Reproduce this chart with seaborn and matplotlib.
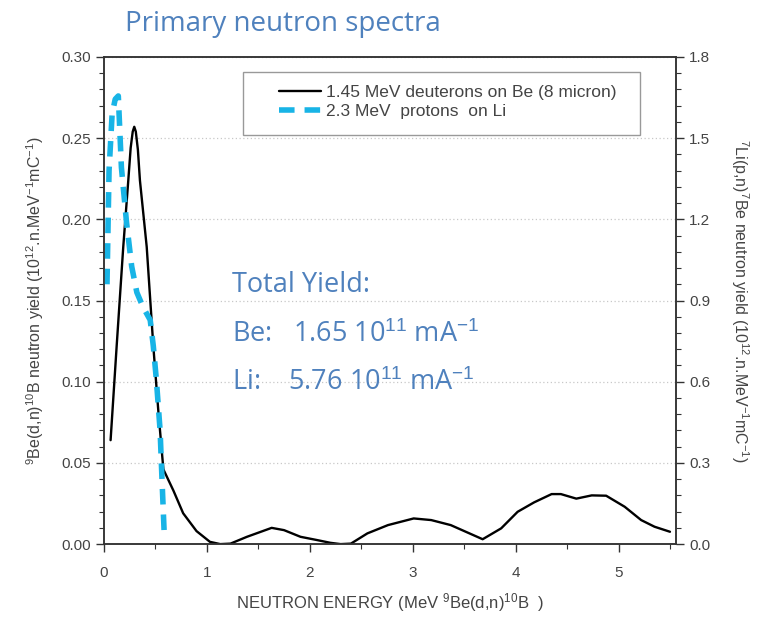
import matplotlib
matplotlib.use('Agg')
import matplotlib.pyplot as plt
import pandas as pd
import seaborn as sns
from matplotlib.ticker import MultipleLocator, FormatStrFormatter
from matplotlib.patches import Rectangle

# 1.45 MeV deuterons on Be, left axis
be_energy = [0.065, 0.124, 0.188, 0.237, 0.26, 0.28, 0.295, 0.31, 0.33, 0.35, 0.416, 0.48,
             0.53, 0.578, 0.675, 0.77, 0.9, 1.03, 1.13, 1.23, 1.39, 1.63, 1.75, 1.91, 2.07,
             2.2, 2.3, 2.4, 2.56, 2.76, 3.01, 3.18, 3.37, 3.68, 3.86, 4.02, 4.18, 4.35, 4.44,
             4.59, 4.74, 4.88, 5.06, 5.22, 5.35, 5.5]
be_yield = [0.064, 0.122, 0.183, 0.224, 0.244, 0.254, 0.257, 0.254, 0.243, 0.224, 0.183,
            0.122, 0.081, 0.046, 0.033, 0.019, 0.008, 0.0014, 0.0, 0.0003, 0.0045, 0.010,
            0.0086, 0.0045, 0.0025, 0.0008, 0.0, 0.0003, 0.0066, 0.0117, 0.0158, 0.0148,
            0.0117, 0.003, 0.0097, 0.0199, 0.0257, 0.0308, 0.0308, 0.028, 0.030, 0.0298,
            0.023, 0.0148, 0.0107, 0.0076]

# 2.3 MeV protons on Li, right axis
li_energy = [0.03, 0.05, 0.08, 0.11, 0.14, 0.17, 0.22, 0.27, 0.32, 0.38, 0.45, 0.48, 0.51,
             0.546, 0.565, 0.585]
li_yield = [0.96, 1.38, 1.59, 1.644, 1.656, 1.392, 1.188, 1.026, 0.93, 0.876, 0.828, 0.732,
            0.606, 0.42, 0.234, 0.048]

be_label = "1.45 MeV deuterons on Be (8 micron)"
li_label = "2.3 MeV  protons  on Li"

be_df = pd.DataFrame({"energy": be_energy, "yield": be_yield})
li_df = pd.DataFrame({"energy": li_energy, "yield": li_yield})

sns.set_style("ticks")
plt.rcParams['font.family'] = ['Liberation Sans', 'DejaVu Sans']
plt.rcParams['mathtext.fontset'] = 'custom'
plt.rcParams['mathtext.rm'] = 'Liberation Sans'
plt.rcParams['mathtext.it'] = 'Liberation Sans:italic'
plt.rcParams['mathtext.bf'] = 'Liberation Sans:bold'

txt = '#444444'
blue = '#4f81bd'
note_font = ['Open Sans', 'DejaVu Sans']

fig = plt.figure(figsize=(7.64, 6.19), dpi=100)
ax = fig.add_axes([0.136, 0.121, 0.749, 0.787])
ax2 = ax.twinx()

sns.lineplot(data=be_df, x="energy", y="yield", ax=ax, color='black', lw=1.7,
             sort=False, estimator=None, label=be_label, legend=False)
sns.lineplot(data=li_df, x="energy", y="yield", ax=ax2, color='#18b4e6', lw=4,
             sort=False, estimator=None, label=li_label, legend=False)
ax2.lines[0].set_dashes([2.8, 1.8])

ax.set_xlim(0, 5.56)
ax.set_ylim(0, 0.30)
ax2.set_ylim(0, 1.8)
ax.xaxis.set_major_locator(MultipleLocator(1))
ax.xaxis.set_minor_locator(MultipleLocator(0.5))
ax.yaxis.set_major_locator(MultipleLocator(0.05))
ax.yaxis.set_minor_locator(MultipleLocator(0.01))
ax2.yaxis.set_major_locator(MultipleLocator(0.3))
ax2.yaxis.set_minor_locator(MultipleLocator(0.06))
ax.yaxis.set_major_formatter(FormatStrFormatter('%.2f'))
ax2.yaxis.set_major_formatter(FormatStrFormatter('%.1f'))

for a in (ax, ax2):
    a.tick_params(which='major', length=6, width=1, colors='#333333', labelsize=11,
                  labelcolor=txt)
    a.tick_params(which='minor', length=3.5, width=0.8, colors='#333333')
    for s in a.spines.values():
        s.set_visible(True)
        s.set_color('#333333')
        s.set_linewidth(1.1)
ax.tick_params(axis='x', which='major', pad=10)

ax.yaxis.grid(True, which='major', color='#c8c8c8', ls=(0, (1, 2)), lw=0.9)

ax.set_xlabel(r"NEUTRON ENERGY (MeV $^{9}$Be(d,n)$^{10}$B  )", fontsize=12, color=txt,
              labelpad=8)
ax.set_ylabel(r"$^{9}$Be(d,n)$^{10}$B neutron yield (10$^{12}$.n.MeV$^{-1}$mC$^{-1}$)",
              fontsize=11.5, color=txt, labelpad=11)
ax2.set_ylabel(r"$^{7}$Li(p,n)$^{7}$Be neutron yield (10$^{12}$.n.MeV$^{-1}$mC$^{-1}$)",
               fontsize=11.5, color=txt, rotation=270, labelpad=29)

# legend frame drawn separately, legend itself without frame
ax2.add_patch(Rectangle((0.243, 0.840), 0.694, 0.129, transform=ax2.transAxes,
                        facecolor='white', edgecolor='#999999', lw=1, zorder=3))
handles = ax.lines[:1] + ax2.lines[:1]
leg = ax2.legend(handles, [be_label, li_label], loc='upper left',
                 bbox_to_anchor=(0.306, 0.942), fontsize=12.5, frameon=False,
                 handlelength=2.4, handletextpad=0.3, borderpad=0,
                 labelspacing=0.22, borderaxespad=0)
leg.set_zorder(4)
for t in leg.get_texts():
    t.set_color(txt)

fig.text(0.163, 0.962, "Primary neutron spectra", fontsize=20, color=blue,
         family=note_font, va='center')
ax.text(0.223, 0.532, "Total Yield:", transform=ax.transAxes, fontsize=19.5, color=blue,
        family=note_font, va='center')
ax.text(0.223, 0.429, r"Be:   1.65 10$^{11}$ mA$^{-1}$", transform=ax.transAxes,
        fontsize=19.5, color=blue, family=note_font, va='center')
ax.text(0.223, 0.331, r"Li:    5.76 10$^{11}$ mA$^{-1}$", transform=ax.transAxes,
        fontsize=19.5, color=blue, family=note_font, va='center')

fig.savefig("out.png", dpi=100)
